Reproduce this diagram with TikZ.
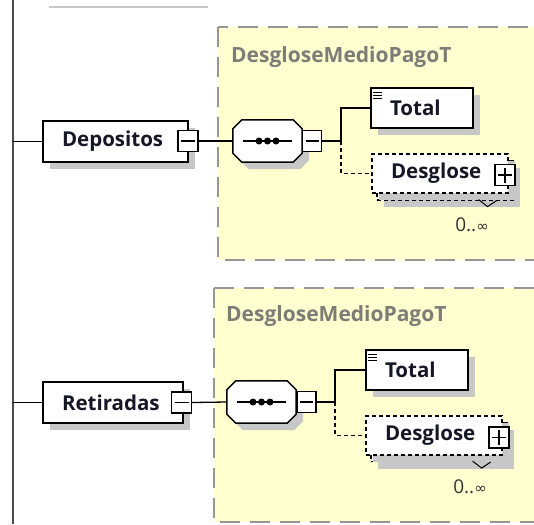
\documentclass[tikz,border=0pt]{standalone}
\usepackage{fontspec}
\setmainfont{Open Sans}
\newfontfamily\symfont{DejaVu Sans}
\usepackage{tikz}
\usetikzlibrary{positioning,shadows}
\definecolor{boxyellow}{RGB}{255,255,208}
\definecolor{framegray}{RGB}{150,150,150}
\definecolor{titlegray}{RGB}{125,125,120}
\definecolor{inkblue}{RGB}{22,22,38}
\newcommand{\unbounded}{0..{\symfont\fontsize{15}{17}\selectfont ∞}}
% octagon outline of a sequence compositor, with its three dots
\newcommand{\seqshape}[1]{%
  \draw[seqline] ([xshift=9pt]#1.north west) -- ([xshift=-9pt]#1.north east) -- ([yshift=-9pt]#1.north east)
    -- ([yshift=9pt]#1.south east) -- ([xshift=-9pt]#1.south east) -- ([xshift=9pt]#1.south west)
    -- ([yshift=9pt]#1.south west) -- ([yshift=-9pt]#1.north west) -- cycle;
  \draw[line width=1.2pt] ([xshift=10pt]#1.west) -- ([xshift=-10pt]#1.east);
  \foreach \d in {-8.5,0,8.5} \fill ([xshift=\d pt]#1.center) circle[radius=3.5pt];}

\begin{document}
\begin{tikzpicture}[x=1pt,y=-1pt,
    shade7/.style={drop shadow={shadow xshift=7pt, shadow yshift=-7pt, fill=black!22, opacity=1}},
    frame/.style={fill=boxyellow, draw=framegray, line width=2pt, dash pattern=on 20pt off 10pt},
    typename/.style={font=\fontsize{21}{24}\selectfont\bfseries, text=titlegray, inner sep=0pt},
    elem/.style={draw, line width=1.5pt, fill=white, minimum height=41pt, inner xsep=19pt, inner ysep=0pt,
        align=left, font=\fontsize{20.5}{23}\selectfont\bfseries, text=inkblue, shade7},
    optelem/.style={elem, line width=1.2pt, dash pattern=on 4pt off 3pt, minimum height=39pt},
    simpletype/.style={path picture={
        \foreach \k in {4,7,10}
          \draw[line width=0.8pt] ([xshift=2pt,yshift=-\k pt]path picture bounding box.north west) -- ++(9pt,0);}},
    minusbox/.style={draw, line width=1.2pt, fill=white, minimum width=20pt, minimum height=21pt, inner sep=0pt,
        path picture={\draw[line width=1.2pt] ([xshift=3pt]path picture bounding box.west) -- ([xshift=-3pt]path picture bounding box.east);}},
    plusbox/.style={minusbox, path picture={
        \draw[line width=1.2pt] ([xshift=3pt]path picture bounding box.west) -- ([xshift=-3pt]path picture bounding box.east);
        \draw[line width=1.2pt] ([yshift=-3pt]path picture bounding box.north) -- ([yshift=3pt]path picture bounding box.south);}},
    seqbox/.style={minimum width=69pt, minimum height=42pt, inner sep=0pt},
    seqline/.style={line width=1.5pt, fill=white, shade7},
    wire/.style={line width=1.3pt},
    optwire/.style={line width=1.3pt, dash pattern=on 4pt off 3pt},
    count/.style={font=\fontsize{19}{22}\selectfont, text=black!80, inner sep=0pt}
  ]
  \useasboundingbox (0,0) rectangle (534,524);
  \clip (0,0) rectangle (534,524);

  % parent sequence line and the end of the element above
  \coordinate (spineT) at (13,0);
  \coordinate (spineB) at (13,524);
  \draw[line width=1.8pt, black!70] (spineT) -- (spineB);
  \draw[line width=2.5pt, black!22] (49,7) -- (208,7);

  % complex type frames
  \draw[frame] (218,27) rectangle (560,260);
  \node[typename, anchor=west] (ttl1) at (231,57) {DesgloseMedioPagoT};
  \draw[frame] (214,288) rectangle (560,522);
  \node[typename, anchor=west] (ttl2) at (226,316) {DesgloseMedioPagoT};

  % Depositos
  \node[elem, text width=107pt] (dep) at (115.5,141.5) {Depositos};
  \node[minusbox] (depX) at (188,141) {};
  \node[seqbox] (seq1) at (267.5,141) {};
  \seqshape{seq1}
  \node[minusbox, minimum width=19pt] (seq1X) at (312,141) {};
  \coordinate (fork1) at (341,141);
  \node[elem, simpletype, text width=64pt, minimum height=40pt] (tot1) at (422,108) {Total};
  \node[optelem, text width=98pt] (desB1) at (445,180.5) {\phantom{Desglose}};
  \node[optelem, text width=98pt, drop shadow={opacity=0}] (desF1) at (440,173.5) {Desglose};
  \node[plusbox] (desX1) at (505,175) {};
  \draw[line width=1pt] (desB1.south east) ++(-35,-1) -- ++(9,7) -- ++(9,-6);
  \node[count] (cnt1) at (472,225) {\unbounded};

  \draw[wire] (dep.west) -- (dep.west -| spineT);
  \draw[wire] (depX.east) -- (seq1.west);
  \draw[wire] (seq1X.east) -- (fork1) |- (tot1.west);
  \draw[optwire] (fork1) |- (desF1.west);

  % Retiradas
  \node[elem, text width=102pt] (ret) at (113,402.5) {Retiradas};
  \node[minusbox, minimum height=21pt] (retX) at (181.5,402.5) {};
  \node[seqbox] (seq2) at (261.5,402) {};
  \seqshape{seq2}
  \node[minusbox, minimum width=19pt] (seq2X) at (306.5,402) {};
  \coordinate (fork2) at (335,402);
  \node[elem, simpletype, text width=64pt, minimum height=40pt] (tot2) at (417,370) {Total};
  \node[optelem, text width=98pt] (desB2) at (439,442) {\phantom{Desglose}};
  \node[optelem, text width=98pt, drop shadow={opacity=0}] (desF2) at (434,435.5) {Desglose};
  \node[plusbox] (desX2) at (499,437.5) {};
  \draw[line width=1pt] (desB2.south east) ++(-35,-1) -- ++(9,7) -- ++(9,-6);
  \node[count] (cnt2) at (470,487) {\unbounded};

  \draw[wire] (ret.west) -- (ret.west -| spineT);
  \draw[wire] (retX.east) -- (seq2.west);
  \draw[wire] (seq2X.east) -- (fork2) |- (tot2.west);
  \draw[optwire] (fork2) |- (desF2.west);
\end{tikzpicture}
\end{document}
